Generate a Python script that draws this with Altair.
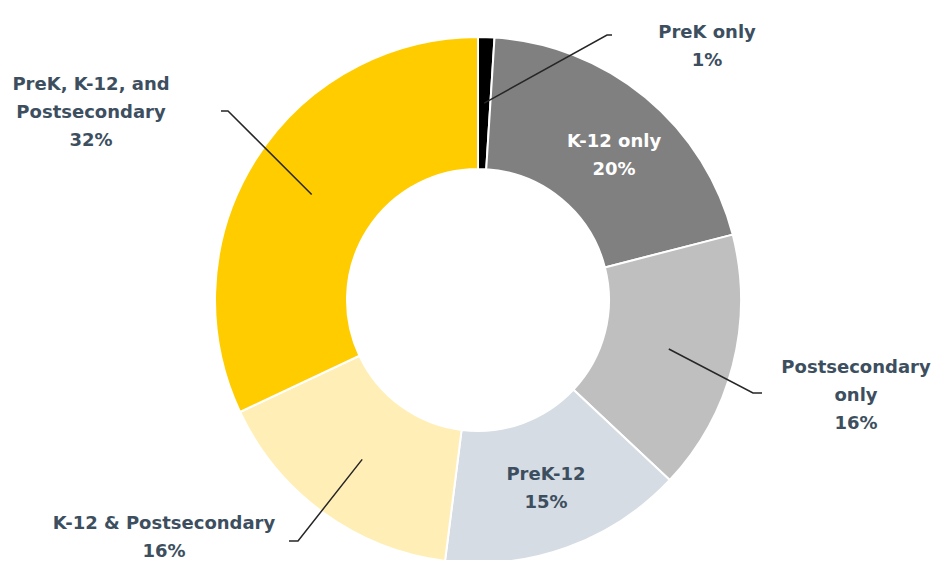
import math
import altair as alt
import pandas as pd

# ---- data ----
categories = ["PreK only", "K-12 only", "Postsecondary only", "PreK-12",
              "K-12 & Postsecondary", "PreK, K-12, and Postsecondary"]
values = [1, 20, 16, 15, 16, 32]
colors = ["#000000", "#808080", "#BFBFBF", "#D6DCE4", "#FFEFB6", "#FFCC00"]
label_lines = [["PreK only", "1%"], ["K-12 only", "20%"], ["Postsecondary", "only", "16%"],
               ["PreK-12", "15%"], ["K-12 & Postsecondary", "16%"],
               ["PreK, K-12, and", "Postsecondary", "32%"]]

# ---- layout (pixels inside the view) ----
W, H = 926, 552
CX, CY = 470, 292
R_OUT, R_IN = 263, 131
R_MID = (R_OUT + R_IN) / 2
LH = 28
TEXT_COLOR = "#3D4F5F"
FONT = "DejaVu Sans"
# label block centres and leader-line elbows/ends (offsets relative to centre)
label_pos = {
    "PreK only": (229, -253),
    "K-12 only": (136, -144),
    "Postsecondary only": (378, 96),
    "PreK-12": (68, 189),
    "K-12 & Postsecondary": (-314, 238),
    "PreK, K-12, and Postsecondary": (-387, -187),
}
leaders = {
    "PreK only": [(129, -265), (134, -265)],
    "Postsecondary only": [(275, 93), (284, 93)],
    "K-12 & Postsecondary": [(-180, 241), (-189, 241)],
    "PreK, K-12, and Postsecondary": [(-250, -189), (-257, -189)],
}

total = sum(values)
df = pd.DataFrame({"category": categories, "value": values, "order": range(len(values))})

# text rows
rows = []
for cat, lines in zip(categories, label_lines):
    bx, by = label_pos[cat]
    n = len(lines)
    for i, t in enumerate(lines):
        rows.append({"category": cat, "text": t,
                     "x": CX + bx, "y": CY + by + (i - (n - 1) / 2) * LH,
                     "white": cat == "K-12 only"})
tdf = pd.DataFrame(rows)

# leader lines, starting at the ring middle at each slice's mid-angle
lrows = []
cum = 0
for cat, v in zip(categories, values):
    mid = (cum + v / 2) / total * 2 * math.pi
    cum += v
    if cat in leaders:
        pts = [(R_MID * math.sin(mid), -R_MID * math.cos(mid))] + leaders[cat]
        for k, (px, py) in enumerate(pts):
            lrows.append({"category": cat, "k": k, "x": CX + px, "y": CY + py})
ldf = pd.DataFrame(lrows)

xs = alt.Scale(domain=[0, W], range=[0, W])
ys = alt.Scale(domain=[0, H], range=[0, H])

donut = alt.Chart(df).mark_arc(
    innerRadius=R_IN, outerRadius=R_OUT, stroke="white", strokeWidth=2
).encode(
    theta=alt.Theta("value:Q", stack=True),
    order=alt.Order("order:Q"),
    color=alt.Color("category:N", scale=alt.Scale(domain=categories, range=colors), legend=None),
    x=alt.value(CX), y=alt.value(CY),
)

lines = alt.Chart(ldf).mark_line(color="#262626", strokeWidth=1.5).encode(
    x=alt.X("x:Q", scale=xs, axis=None),
    y=alt.Y("y:Q", scale=ys, axis=None),
    detail="category:N",
    order="k:Q",
)

texts = alt.Chart(tdf).mark_text(
    font=FONT, fontSize=18, fontWeight="bold", align="center", baseline="middle"
).encode(
    x=alt.X("x:Q", scale=xs, axis=None),
    y=alt.Y("y:Q", scale=ys, axis=None),
    text="text:N",
    color=alt.condition("datum.white", alt.value("white"), alt.value(TEXT_COLOR)),
)

chart = alt.layer(donut, lines, texts).properties(
    width=W, height=H, padding=0, autosize=alt.AutoSizeParams(type="none")
).configure_view(stroke=None)

chart.save("out.html", embed_options={"renderer": "svg", "actions": False})
